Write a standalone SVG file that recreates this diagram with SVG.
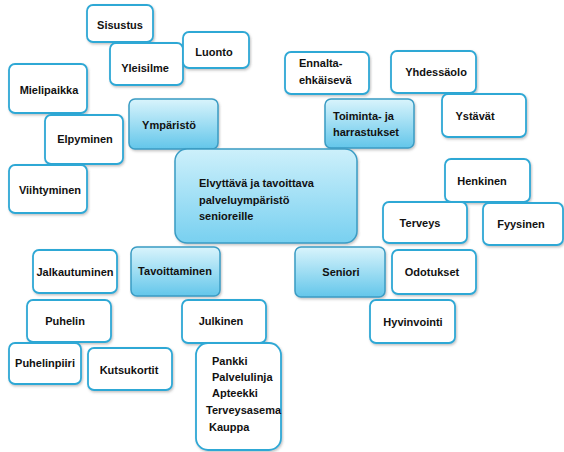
<svg xmlns="http://www.w3.org/2000/svg" width="564" height="452" viewBox="0 0 564 452">
<defs>
<linearGradient id="gb" x1="0" y1="0" x2="0" y2="1">
<stop offset="0" stop-color="#d9f4fc"/>
<stop offset="1" stop-color="#63c6ea"/>
</linearGradient>
<linearGradient id="gc" x1="0" y1="0" x2="0" y2="1">
<stop offset="0" stop-color="#cdf0fb"/>
<stop offset="1" stop-color="#78d0f0"/>
</linearGradient>
<filter id="sh" x="-10%" y="-10%" width="130%" height="140%">
<feDropShadow dx="1" dy="1.5" stdDeviation="1" flood-color="#555" flood-opacity="0.35"/>
</filter>
<style>
.w{fill:#fff;stroke:#2fa8d5;stroke-width:1.8;filter:url(#sh)}
.b{fill:url(#gb);stroke:#3a9cc4;stroke-width:1.5;filter:url(#sh)}
.c{fill:url(#gc);stroke:#3a9cc4;stroke-width:1.5;filter:url(#sh)}
text{font-family:"Liberation Sans",Arial,sans-serif;font-size:11px;font-weight:bold;fill:#111}
.m{text-anchor:middle}
</style>
</defs>
<g id="connectors"></g>
<g id="n-sisustus"><rect class="w" x="87" y="5" width="66" height="37" rx="6"/><text class="m" x="120" y="29">Sisustus</text></g>
<g id="n-yleisilme"><rect class="w" x="110" y="43" width="73" height="42" rx="6"/><text class="m" x="145" y="72">Yleisilme</text></g>
<g id="n-luonto"><rect class="w" x="183" y="32" width="66" height="36" rx="6"/><text class="m" x="214" y="56">Luonto</text></g>
<g id="n-mielipaikka"><rect class="w" x="9" y="64" width="78" height="49" rx="6"/><text class="m" x="49" y="94">Mielipaikka</text></g>
<g id="n-elpyminen"><rect class="w" x="45" y="115" width="78" height="49" rx="6"/><text class="m" x="85" y="143">Elpyminen</text></g>
<g id="n-viihtyminen"><rect class="w" x="9" y="165" width="78" height="48" rx="6"/><text class="m" x="50" y="194">Viihtyminen</text></g>
<g id="n-ymparisto"><rect class="b" x="129" y="99" width="89" height="50" rx="6"/><text class="m" x="169" y="129">Ympäristö</text></g>
<g id="n-ennalta"><rect class="w" x="285" y="52" width="84" height="42" rx="6"/><text x="299" y="67">Ennalta-</text><text x="299" y="84">ehkäisevä</text></g>
<g id="n-yhdessaolo"><rect class="w" x="391" y="51" width="85" height="42" rx="6"/><text class="m" x="436" y="76">Yhdessäolo</text></g>
<g id="n-ystavat"><rect class="w" x="442" y="94" width="84" height="43" rx="6"/><text class="m" x="475" y="120">Ystävät</text></g>
<g id="n-toiminta"><rect class="b" x="325" y="99" width="89" height="49" rx="6"/><text x="333" y="120">Toiminta- ja</text><text x="333" y="136">harrastukset</text></g>
<g id="n-center"><rect class="c" x="175" y="149" width="182" height="94" rx="12"/><text x="199" y="187">Elvyttävä ja tavoittava</text><text x="199" y="204">palveluympäristö</text><text x="199" y="220">senioreille</text></g>
<g id="n-henkinen"><rect class="w" x="445" y="159" width="85" height="43" rx="6"/><text class="m" x="482" y="185">Henkinen</text></g>
<g id="n-terveys"><rect class="w" x="383" y="202" width="84" height="41" rx="6"/><text class="m" x="420" y="227">Terveys</text></g>
<g id="n-fyysinen"><rect class="w" x="483" y="203" width="80" height="42" rx="6"/><text class="m" x="521" y="228">Fyysinen</text></g>
<g id="n-seniori"><rect class="b" x="295" y="247" width="90" height="50" rx="6"/><text class="m" x="341" y="276">Seniori</text></g>
<g id="n-odotukset"><rect class="w" x="392" y="250" width="84" height="44" rx="6"/><text class="m" x="432" y="276">Odotukset</text></g>
<g id="n-hyvinvointi"><rect class="w" x="370" y="300" width="85" height="43" rx="6"/><text class="m" x="413" y="326">Hyvinvointi</text></g>
<g id="n-jalkautuminen"><rect class="w" x="33" y="250" width="84" height="43" rx="6"/><text class="m" x="75" y="276">Jalkautuminen</text></g>
<g id="n-tavoittaminen"><rect class="b" x="131" y="247" width="89" height="49" rx="6"/><text class="m" x="175" y="275">Tavoittaminen</text></g>
<g id="n-puhelin"><rect class="w" x="27" y="300" width="84" height="42" rx="6"/><text class="m" x="65" y="325">Puhelin</text></g>
<g id="n-julkinen"><rect class="w" x="182" y="300" width="84" height="43" rx="6"/><text class="m" x="221" y="325">Julkinen</text></g>
<g id="n-puhelinpiiri"><rect class="w" x="9" y="343" width="72" height="41" rx="6"/><text class="m" x="45" y="367">Puhelinpiiri</text></g>
<g id="n-kutsukortit"><rect class="w" x="88" y="348" width="84" height="42" rx="6"/><text class="m" x="129" y="374">Kutsukortit</text></g>
<g id="n-lista"><rect class="w" x="196" y="343" width="85" height="107" rx="12"/><text x="212" y="365">Pankki</text><text x="212" y="381">Palvelulinja</text><text x="212" y="397">Apteekki</text><text x="206" y="414">Terveysasema</text><text x="209" y="431">Kauppa</text></g>
</svg>
